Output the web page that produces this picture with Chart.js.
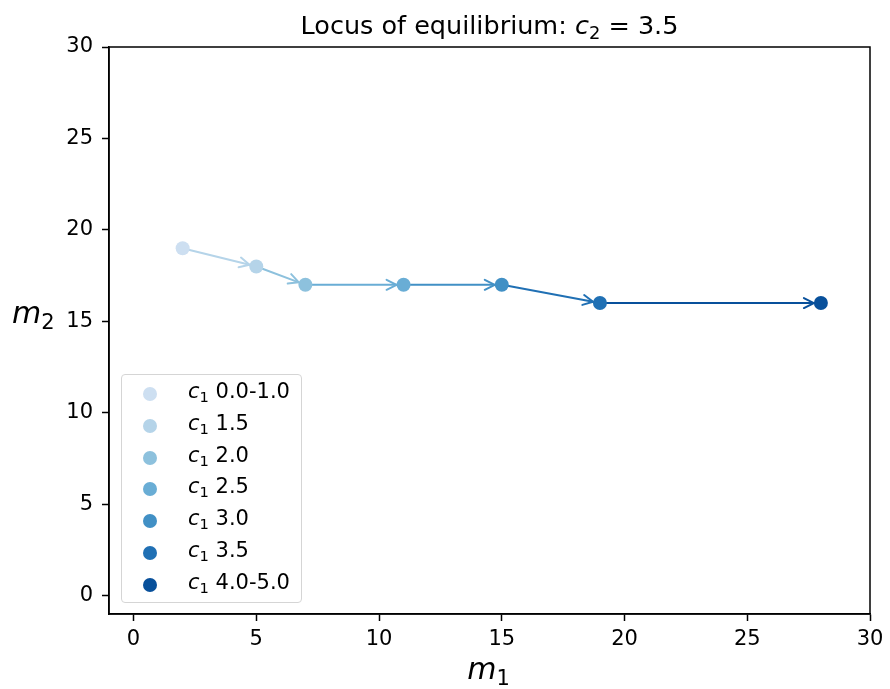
<!DOCTYPE html>
<html>
<head>
<meta charset="utf-8">
<script src="https://cdn.jsdelivr.net/npm/chart.js@4.4.1/dist/chart.umd.min.js"></script>
<style>
  body { margin: 0; background: #fff; font-family: "DejaVu Sans", sans-serif; }
  #wrap { position: relative; width: 890px; height: 689px; }
  #chart { position: absolute; left: 0; top: 0; }
  .lbl { position: absolute; color: #000; white-space: nowrap; line-height: normal; }
  .lbl sub { font-size: 0.7em; vertical-align: -0.3em; line-height: 0; }
  #title { left: 0; width: 979px; top: 10px; text-align: center; font-size: 25.5px; }
  #xlabel { left: 0; width: 977px; top: 651px; text-align: center; font-size: 30px; font-style: italic; }
  #xlabel sub, #ylabel sub { font-style: normal; }
  #ylabel { left: 12px; top: 295px; font-size: 30px; font-style: italic; }
  #legend { position: absolute; left: 121px; top: 374px; width: 179px; height: 224px;
            border: 1px solid #d5d5d5; border-radius: 4px; background: rgba(255,255,255,0.8);
            padding-top: 3px; box-sizing: content-box; }
  .row { position: relative; height: 31.8px; font-size: 21px; }
  .dot { position: absolute; left: 21px; top: 9px; width: 14px; height: 14px; border-radius: 50%; }
  .txt { position: absolute; left: 66px; top: 1px; line-height: normal; }
  .txt sub { font-size: 0.7em; vertical-align: -0.3em; line-height: 0; }
</style>
</head>
<body>
<div id="wrap">
  <canvas id="chart" width="890" height="689"></canvas>
  <div class="lbl" id="title">Locus of equilibrium: <i>c</i><sub>2</sub> = 3.5</div>
  <div class="lbl" id="xlabel">m<sub>1</sub></div>
  <div class="lbl" id="ylabel">m<sub>2</sub></div>
  <div id="legend"></div>
</div>
<script>
const c1Labels = ['0.0-1.0', '1.5', '2.0', '2.5', '3.0', '3.5', '4.0-5.0'];
const m1Values = [2, 5, 7, 11, 15, 19, 28];
const m2Values = [19, 18, 17, 17, 17, 16, 16];
const pointColors = ['#cddff1', '#b5d4e9', '#8dc1dd', '#69add5', '#4190c5', '#2070b4', '#08509b'];
const xTicks = [0, 5, 10, 15, 20, 25, 30];
const yTicks = [0, 5, 10, 15, 20, 25, 30];

const RADIUS = 7;

// legend (inside the axes, lower left)
const legendEl = document.getElementById('legend');
c1Labels.forEach((lab, i) => {
    const row = document.createElement('div');
    row.className = 'row';
    row.innerHTML = '<span class="dot" style="background:' + pointColors[i] + '"></span>' +
        '<span class="txt"><i>c</i><sub>1</sub> ' + lab + '</span>';
    legendEl.appendChild(row);
});

// arrows between consecutive equilibria, coloured like the destination
const arrowPlugin = {
    id: 'arrows',
    beforeDatasetsDraw(chart) {
        const ctx = chart.ctx;
        const xs = chart.scales.x, ys = chart.scales.y;
        ctx.save();
        ctx.lineWidth = 2;
        ctx.lineCap = 'round';
        ctx.lineJoin = 'round';
        for (let i = 0; i < m1Values.length - 1; i++) {
            const x0 = xs.getPixelForValue(m1Values[i]), y0 = ys.getPixelForValue(m2Values[i]);
            const x1 = xs.getPixelForValue(m1Values[i + 1]), y1 = ys.getPixelForValue(m2Values[i + 1]);
            const len = Math.hypot(x1 - x0, y1 - y0);
            const dx = (x1 - x0) / len, dy = (y1 - y0) / len;
            const sx = x0 + dx * 3, sy = y0 + dy * 3;
            const ex = x1 - dx * RADIUS, ey = y1 - dy * RADIUS;
            ctx.strokeStyle = pointColors[i + 1];
            ctx.beginPath();
            ctx.moveTo(sx, sy);
            ctx.lineTo(ex, ey);
            ctx.stroke();
            const hl = 10, hw = 5;
            const bx = ex - dx * hl, by = ey - dy * hl;
            ctx.beginPath();
            ctx.moveTo(bx - dy * hw, by + dx * hw);
            ctx.lineTo(ex, ey);
            ctx.lineTo(bx + dy * hw, by - dx * hw);
            ctx.stroke();
        }
        ctx.restore();
    },
    afterDraw(chart) {
        const a = chart.chartArea;
        const ctx = chart.ctx;
        ctx.save();
        ctx.strokeStyle = '#000';
        ctx.lineWidth = 1.5;
        ctx.strokeRect(a.left, a.top, a.right - a.left, a.bottom - a.top);
        ctx.restore();
    }
};

const datasets = c1Labels.map((lab, i) => ({
    label: 'c1 ' + lab,
    data: [{x: m1Values[i], y: m2Values[i]}],
    backgroundColor: pointColors[i],
    borderWidth: 0,
    pointRadius: RADIUS,
    pointHoverRadius: RADIUS
}));

const axisCommon = {
    type: 'linear',
    min: -1,
    max: 30,
    grid: { display: true, drawOnChartArea: false, drawTicks: true, tickLength: 7, color: '#000', tickWidth: 1.5 },
    border: { display: true, color: '#000', width: 1.5 }
};

new Chart(document.getElementById('chart'), {
    type: 'scatter',
    data: { datasets },
    options: {
        responsive: false,
        animation: false,
        layout: { padding: { left: 0, top: 47, right: 20, bottom: 0 } },
        plugins: { legend: { display: false }, title: { display: false }, tooltip: { enabled: false } },
        scales: {
            x: Object.assign({}, axisCommon, {
                ticks: { color: '#000', font: { family: 'DejaVu Sans', size: 21 }, padding: 6 },
                afterBuildTicks: s => { s.ticks = xTicks.map(v => ({value: v})); },
                afterFit: s => { s.height = 75; }
            }),
            y: Object.assign({}, axisCommon, {
                ticks: { color: '#000', font: { family: 'DejaVu Sans', size: 21 }, padding: 9 },
                afterBuildTicks: s => { s.ticks = yTicks.map(v => ({value: v})); },
                afterFit: s => { s.width = 109; }
            })
        }
    },
    plugins: [arrowPlugin]
});
</script>
</body>
</html>
